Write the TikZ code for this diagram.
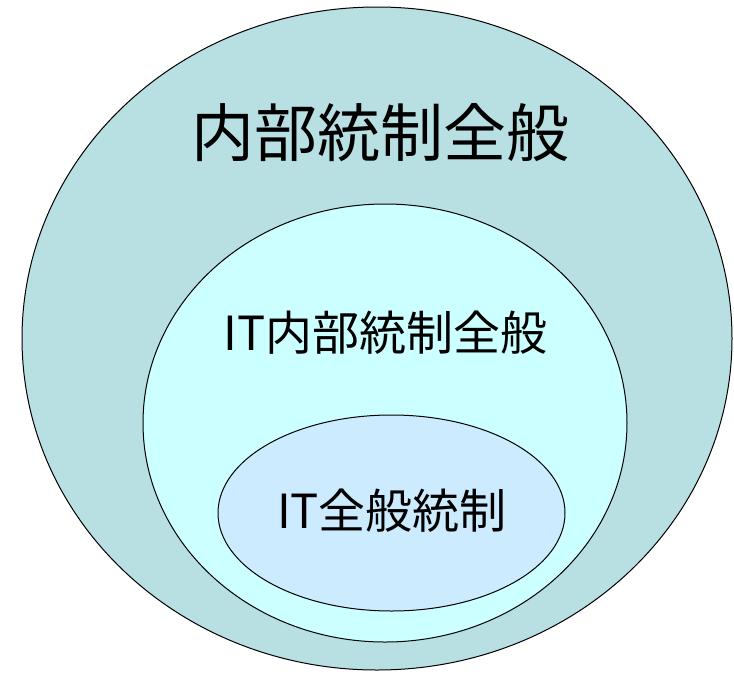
\documentclass[tikz,border=0pt]{standalone}
\usepackage{fontspec}
\setmainfont{Noto Sans CJK JP}
\usepackage{xcolor}
\usepackage{tikz}
\usetikzlibrary{shapes.geometric}

\definecolor{outerfill}{HTML}{B8DFE2}
\definecolor{midfill}{HTML}{CCFFFF}
\definecolor{innerfill}{HTML}{CCEBFF}

\tikzset{
    setbox/.style={ellipse, draw=black, line width=1pt, inner sep=0pt},
    biglabel/.style={font=\fontsize{63}{70}\selectfont},
    midlabel/.style={font=\fontsize{47}{52}\selectfont}
}

\begin{document}
\begin{tikzpicture}[x=1pt, y=-1pt]
    \useasboundingbox (0,0) rectangle (734,673);
    \node[setbox, fill=outerfill, minimum width=710pt, minimum height=663pt] (outer) at (377,338.5) {};
    \node[setbox, fill=midfill, minimum width=484pt, minimum height=438pt] (mid) at (385,423) {};
    \node[setbox, fill=innerfill, minimum width=347pt, minimum height=196pt] (inner) at (391.5,513) {};
    \node[biglabel] (outertext) at (380,133) {内部統制全般};
    \node[midlabel] (midtext) at (385.5,333) {IT内部統制全般};
    \node[midlabel] (innertext) at (392,511) {IT全般統制};
    \end{tikzpicture}
\end{document}
